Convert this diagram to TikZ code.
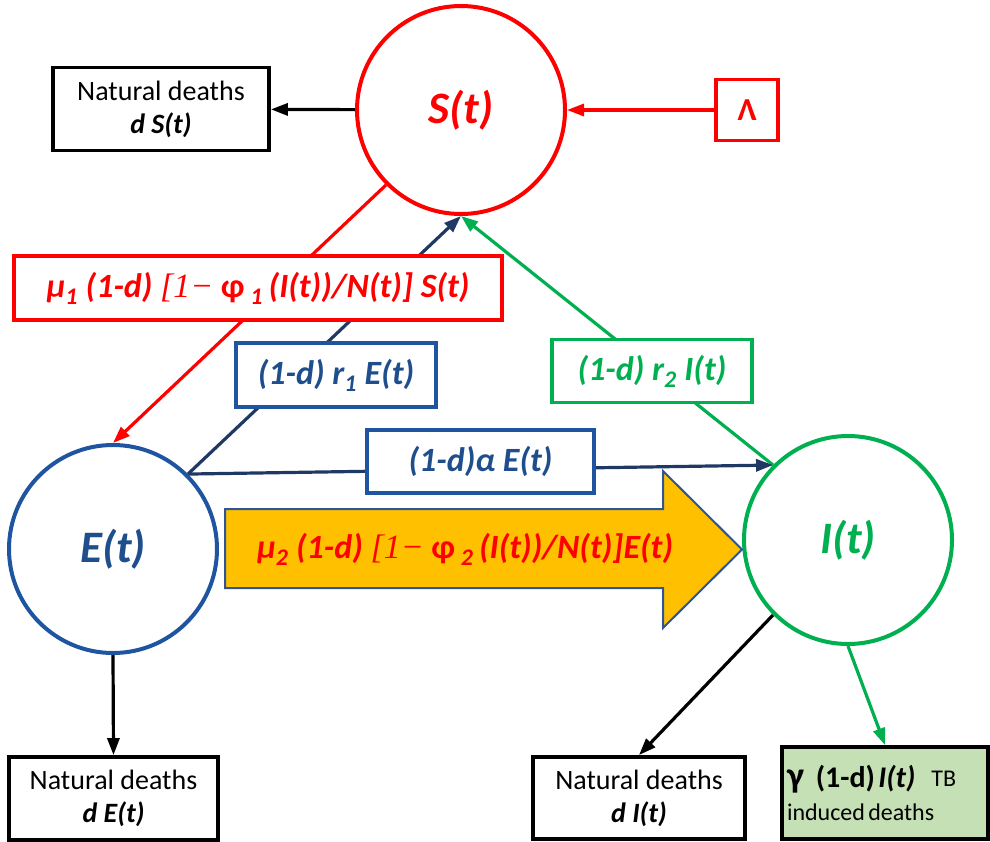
\documentclass[tikz,border=0pt]{standalone}
\usepackage{fontspec}
\setmainfont{Carlito}
\newfontfamily\serifit{Liberation Serif}
\usetikzlibrary{arrows.meta,backgrounds}
\definecolor{cRed}{HTML}{FF0000}
\definecolor{cBlue}{HTML}{1F54A0}
\definecolor{cBlueTxt}{HTML}{1F4E8D}
\definecolor{cNavy}{HTML}{1F3864}
\definecolor{cGreen}{HTML}{00B050}
\definecolor{cYellow}{HTML}{FFC000}
\definecolor{cArrowEdge}{HTML}{2F5597}
\definecolor{cLightGreen}{HTML}{C5E0B4}
\begin{document}
\begin{tikzpicture}[x=1pt,y=-1pt,
  comp/.style={circle,minimum size=208pt,inner sep=0pt,line width=4pt,fill=white,
    font=\fontsize{45}{48}\selectfont\bfseries\itshape},
  deathbox/.style={rectangle,draw=black,line width=3.8pt,fill=white,inner sep=0pt,
    align=center,font=\fontsize{28}{33}\selectfont},
  ratebox/.style={rectangle,line width=3.8pt,fill=white,inner sep=0pt,
    font=\fontsize{34}{36}\selectfont\bfseries\itshape},
  conn/.style={line width=3.2pt,-{Triangle[length=17pt,width=12pt]}}
]
\useasboundingbox (0,0) rectangle (990,841);

% compartments
\node[comp,draw=cRed,text=cRed] (S) at (461,110) {S(t)};
\node[comp,draw=cBlue,text=cBlueTxt] (E) at (113,549) {E(t)};
\node[comp,draw=cGreen,text=cGreen] (I) at (848,540) {I(t)};

% recruitment
\node[rectangle,draw=cRed,line width=3.8pt,fill=white,minimum width=62pt,minimum height=61pt,
  inner sep=0pt,text=cRed,font=\fontsize{32}{34}\selectfont\bfseries] (L) at (747,110) {Λ};

% death boxes
\node[deathbox,minimum width=216pt,minimum height=83pt] (dS) at (161,109)
  {Natural deaths\\\textbf{\textit{d S(t)}}};
\node[deathbox,minimum width=209pt,minimum height=83pt] (dE) at (113.5,798.5)
  {Natural deaths\\\textbf{\textit{d E(t)}}};
\node[deathbox,minimum width=212pt,minimum height=82pt] (dI) at (639,798)
  {Natural deaths\\\textbf{\textit{d I(t)}}};
\node[rectangle,draw=black,line width=3.8pt,fill=cLightGreen,minimum width=206pt,
  minimum height=92pt,inner xsep=5pt,inner ysep=0pt,text width=196pt,align=left] (TB) at (885,793)
  {{\fontsize{36}{34}\selectfont\bfseries γ}\hspace{12pt}{\fontsize{30}{30}\selectfont\bfseries (1-d)} {\fontsize{30}{30}\selectfont\bfseries\itshape I(t)}\hspace{16pt}\raisebox{1pt}{\fontsize{24}{24}\selectfont TB}\\[9pt]
   {\fontsize{24}{24}\selectfont induced deaths}};

% rate boxes
\node[ratebox,draw=cRed,text=cRed,minimum width=488pt,minimum height=64pt] (R1) at (258,288)
  {μ\textsubscript{1} (1-d) {\serifit\mdseries [1−} \textup{φ}\,\textsubscript{1}\,(I(t))/N(t)] S(t)};
\node[ratebox,draw=cBlue,text=cBlueTxt,minimum width=200pt,minimum height=64pt] (RE) at (336,375)
  {(1-d) r\textsubscript{1} E(t)};
\node[ratebox,draw=cGreen,text=cGreen,minimum width=200pt,minimum height=63pt] (RI) at (652,371)
  {(1-d) r\textsubscript{2} I(t)};
\node[ratebox,draw=cBlue,text=cBlueTxt,minimum width=227pt,minimum height=63pt] (RA) at (480.5,461.5)
  {(1-d)α E(t)};

% big yellow arrow
\filldraw[fill=cYellow,draw=cArrowEdge,line width=2pt]
  (225,509) -- (663,509) -- (663,471) -- (742,549.5) -- (663,628) -- (663,588) -- (225,588) -- cycle;
\node[text=cRed,font=\fontsize{34}{36}\selectfont\bfseries\itshape] (Y) at (465,549)
  {μ\textsubscript{2} (1-d) {\serifit\mdseries [1−} \textup{φ}\,\textsubscript{2}\,(I(t))/N(t)]E(t)};

% connectors
\begin{pgfonlayer}{background}
\draw[conn,black] (S) -- (dS);
\draw[conn,cRed] (L) -- (S);
\draw[conn,cRed] (S.225) -- (E.north);
\draw[conn,cNavy] (E.45) -- (S.south);
\draw[conn,cGreen] (I.135) -- (S.south);
\draw[conn,cNavy] (E.45) -- (I.135);
\draw[conn,black] (E.south) -- (dE.north);
\draw[conn,black] (I.225) -- (dI.north);
\draw[conn,cGreen] (I.south) -- (TB.north);
\end{pgfonlayer}
\end{tikzpicture}
\end{document}
